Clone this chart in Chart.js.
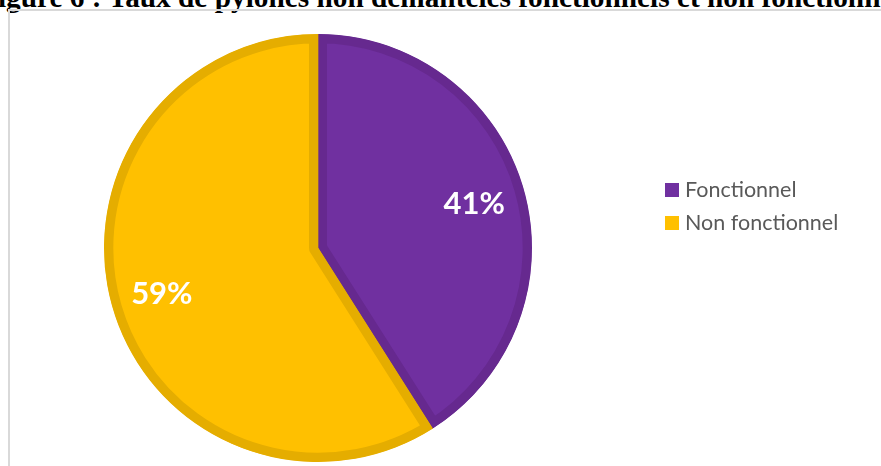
<!DOCTYPE html>
<html>
<head>
<meta charset="utf-8">
<script src="https://cdn.jsdelivr.net/npm/chart.js@4.4.1/dist/chart.umd.min.js"></script>
<style>
  html, body { margin: 0; padding: 0; background: #fff; overflow: hidden; width: 881px; height: 466px; }
  #titre {
    position: absolute; left: -20px; top: -17px; white-space: nowrap;
    font-family: "Liberation Serif", "Times New Roman", serif; font-weight: bold;
    font-size: 29.3px; line-height: 29px; color: #000;
  }
  #cadre {
    position: absolute; left: 8px; top: 9px; width: 880px; height: 470px;
    border-left: 2px solid #d9d9d9; border-top: 2px solid #d9d9d9;
  }
  #zone { position: absolute; left: 9px; top: 10px; width: 872px; height: 456px; }
</style>
</head>
<body>
<div id="titre">Figure 6 : Taux de pylônes non démantelés fonctionnels et non fonctionnels</div>
<div id="cadre"></div>
<div id="zone"><canvas id="myChart"></canvas></div>
<script>
// données du graphique
var categories = ['Fonctionnel', 'Non fonctionnel'];
var pourcentages = [41, 59];
var couleurs = ['#7030A0', '#FFC000'];
var bordures = ['#66298F', '#E5AD00'];

// pourcentages écrits en blanc dans chaque part
const etiquettes = {
    id: 'etiquettes',
    afterDatasetsDraw(chart) {
        const ctx = chart.ctx;
        const meta = chart.getDatasetMeta(0);
        ctx.save();
        ctx.fillStyle = '#ffffff';
        ctx.font = 'bold 31px Lato, "Open Sans", sans-serif';
        ctx.textAlign = 'center';
        ctx.textBaseline = 'middle';
        meta.data.forEach(function (arc, i) {
            const p = arc.getProps(['x', 'y', 'startAngle', 'endAngle', 'outerRadius'], true);
            const mid = (p.startAngle + p.endAngle) / 2;
            const r = p.outerRadius * 0.76;
            ctx.fillText(chart.data.datasets[0].data[i] + '%', p.x + Math.cos(mid) * r, p.y + Math.sin(mid) * r + 1);
        });
        ctx.restore();
    }
};

// légende à droite, comme dans Excel
const legende = {
    id: 'legende',
    afterDraw(chart) {
        const ctx = chart.ctx;
        const ds = chart.data.datasets[0];
        ctx.save();
        ctx.font = '21.5px Lato, "Open Sans", sans-serif';
        ctx.textBaseline = 'middle';
        chart.data.labels.forEach(function (lab, i) {
            const y = 173 + i * 33;
            ctx.fillStyle = ds.backgroundColor[i];
            ctx.fillRect(656, y, 14, 14);
            ctx.fillStyle = '#595959';
            ctx.fillText(lab, 676, y + 7);
        });
        ctx.restore();
    }
};

var ctx = document.getElementById('myChart').getContext('2d');
var myChart = new Chart(ctx, {
    type: 'pie',
    data: {
        labels: categories,
        datasets: [{
            data: pourcentages,
            backgroundColor: couleurs,
            borderColor: bordures,
            borderWidth: 9,
            borderAlign: 'inner',
            hoverOffset: 0
        }]
    },
    options: {
        responsive: true,
        maintainAspectRatio: false,
        animation: false,
        events: [],
        layout: { padding: { left: 95, right: 349, top: 24, bottom: 4 } },
        plugins: {
            legend: { display: false },
            tooltip: { enabled: false }
        }
    },
    plugins: [etiquettes, legende]
});
</script>
</body>
</html>
